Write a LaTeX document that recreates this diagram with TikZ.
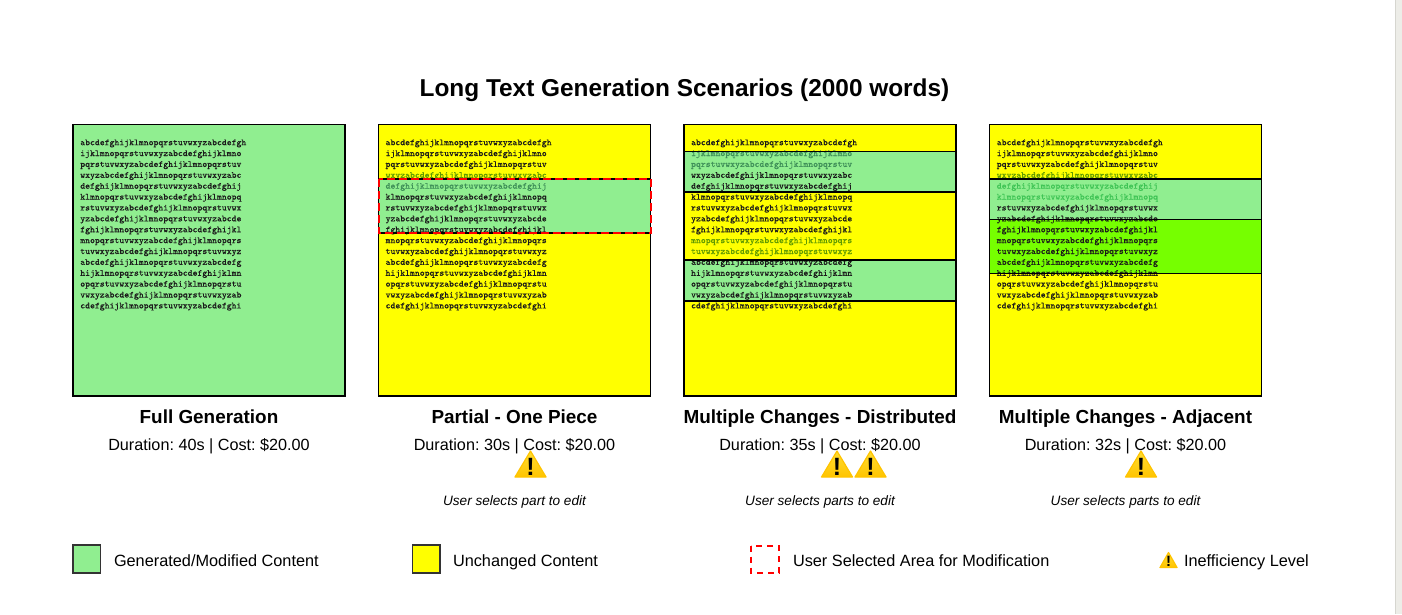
\documentclass[tikz,border=0pt]{standalone}
\usepackage{fontspec}
\setmainfont{Liberation Sans}
\newfontfamily\codefont[FakeBold=0.25]{Latin Modern Mono}
\frenchspacing
\definecolor{genc}{HTML}{90EE90}
\definecolor{adjc}{HTML}{76FF00}
\definecolor{unch}{HTML}{FFFF00}
\definecolor{tk}{HTML}{1A1A1A}
\definecolor{ty}{HTML}{5F9A00}
\definecolor{tf}{HTML}{3E8F58}
\definecolor{tl}{HTML}{3FC455}
\definecolor{warnt}{HTML}{FFDD33}
\definecolor{warnb}{HTML}{FFC400}
\definecolor{sbar}{HTML}{EDEDE8}
\definecolor{sbarl}{HTML}{D6D6D0}
\tikzset{
  x=1pt,y=-1pt,
  every node/.style={inner sep=0pt,outer sep=0pt},
  panelbox/.style={draw=black,line width=1.4pt,fill=#1},
  bandline/.style={draw=black,line width=1.4pt},
  selbox/.style={draw=red,line width=2pt,dash pattern=on 8pt off 4pt},
  legbox/.style={draw=black!80,line width=1.4pt,fill=#1},
  legsel/.style={draw=red,line width=2pt,dash pattern=on 6pt off 5pt},
  mono/.style={font=\fontsize{9.3pt}{9.3pt}\codefont,anchor=base west},
  titletext/.style={font=\fontsize{24.4pt}{24.4pt}\selectfont\bfseries,anchor=base},
  headtext/.style={font=\fontsize{18.9pt}{18.9pt}\selectfont\bfseries,anchor=base},
  durtext/.style={font=\fontsize{16.2pt}{16.2pt}\selectfont,anchor=base},
  hinttext/.style={font=\fontsize{13.6pt}{13.6pt}\selectfont\itshape,anchor=base},
  legtext/.style={font=\fontsize{16.3pt}{16.3pt}\selectfont,anchor=base west},
  warnmark/.style={font=\fontsize{#1}{#1}\selectfont\bfseries,anchor=base,text=black},
}
\newcommand{\tlset}[2]{\expandafter\def\csname tline#1\endcsname{#2}}
\tlset{1}{abcdefghijklmnopqrstuvwxyzabcdefgh}
\tlset{2}{ijklmnopqrstuvwxyzabcdefghijklmno}
\tlset{3}{pqrstuvwxyzabcdefghijklmnopqrstuv}
\tlset{4}{wxyzabcdefghijklmnopqrstuvwxyzabc}
\tlset{5}{defghijklmnopqrstuvwxyzabcdefghij}
\tlset{6}{klmnopqrstuvwxyzabcdefghijklmnopq}
\tlset{7}{rstuvwxyzabcdefghijklmnopqrstuvwx}
\tlset{8}{yzabcdefghijklmnopqrstuvwxyzabcde}
\tlset{9}{fghijklmnopqrstuvwxyzabcdefghijkl}
\tlset{10}{mnopqrstuvwxyzabcdefghijklmnopqrs}
\tlset{11}{tuvwxyzabcdefghijklmnopqrstuvwxyz}
\tlset{12}{abcdefghijklmnopqrstuvwxyzabcdefg}
\tlset{13}{hijklmnopqrstuvwxyzabcdefghijklmn}
\tlset{14}{opqrstuvwxyzabcdefghijklmnopqrstu}
\tlset{15}{vwxyzabcdefghijklmnopqrstuvwxyzab}
\tlset{16}{cdefghijklmnopqrstuvwxyzabcdefghi}
% panel id, left x of the text, colours of the 16 lines
\newcommand{\textblock}[3]{%
  \foreach \c [count=\i] in {#3}
    \node[mono,text=\c] (p#1l\i) at (#2,{145.2+(\i-1)*10.88}) {\csname tline\i\endcsname};
}
% name, apex x, apex y, half width, height, mark size, mark baseline
\newcommand{\warnsign}[7]{%
  \path[top color=warnt,bottom color=warnb,line join=round,draw=warnb,line width=1.2pt]
    (#2,#3+1) -- (#2+#4-1,#3+#5-1) -- (#2-#4+1,#3+#5-1) -- cycle;
  \node[warnmark=#6] (#1) at (#2,#7) {!};
}
\begin{document}
\begin{tikzpicture}
\useasboundingbox (0,0) rectangle (1402,614);
\fill[white] (0,0) rectangle (1402,614);
\fill[sbar] (1395,0) rectangle (1402,614);
\draw[sbarl,line width=1pt] (1395,0) -- (1395,614);

\node[titletext] (title) at (684.5,96.5) {Long Text Generation Scenarios (2000 words)};

% panel 1
\path[panelbox=genc] (73,124.5) rectangle (345,396);
\textblock{a}{80.3}{tk,tk,tk,tk,tk,tk,tk,tk,tk,tk,tk,tk,tk,tk,tk,tk}

% panel 2
\path[panelbox=unch] (378.5,124.5) rectangle (650.5,396);
\fill[genc] (378.5,178.8) rectangle (650.5,232.8);
\textblock{b}{385.6}{tk,tk,tk,ty,tf,tk,tk,tk,tk,tk,tk,tk,tk,tk,tk,tk}
\draw[bandline] (378.5,178.8) rectangle (650.5,232.8);
\draw[selbox] (378.5,178.8) rectangle (650.5,232.8);

% panel 3
\path[panelbox=unch] (684,124.5) rectangle (956,396);
\fill[genc] (684,151.5) rectangle (956,192);
\fill[genc] (684,260) rectangle (956,300.8);
\textblock{c}{691.1}{tk,tf,tf,tk,tk,tk,tk,tk,tk,ty,ty,tk,tk,tk,tk,tk}
\draw[bandline] (684,151.5) rectangle (956,192);
\draw[bandline] (684,260) rectangle (956,300.8);

% panel 4
\path[panelbox=unch] (989.5,124.5) rectangle (1261.5,396);
\fill[genc] (989.5,178.8) rectangle (1261.5,219.2);
\fill[adjc] (989.5,219.2) rectangle (1261.5,273.4);
\textblock{d}{996.8}{tk,tk,tk,ty,tl,tl,tk,tk,tk,tk,tk,tk,tk,tk,tk,tk}
\draw[bandline] (989.5,178.8) rectangle (1261.5,219.2);
\draw[bandline] (989.5,219.2) rectangle (1261.5,273.4);

% captions
\node[headtext] (h1) at (209,423.5) {Full Generation};
\node[headtext] (h2) at (514.5,423.5) {Partial - One Piece};
\node[headtext] (h3) at (820,423.5) {Multiple Changes - Distributed};
\node[headtext] (h4) at (1125.5,423.5) {Multiple Changes - Adjacent};
\node[durtext] (d1) at (209,450.5) {Duration: 40s | Cost: \$20.00};
\node[durtext] (d2) at (514.5,450.5) {Duration: 30s | Cost: \$20.00};
\node[durtext] (d3) at (820,450.5) {Duration: 35s | Cost: \$20.00};
\node[durtext] (d4) at (1125.5,450.5) {Duration: 32s | Cost: \$20.00};

\warnsign{w2}{530.5}{450}{16.5}{28}{25pt}{475}
\warnsign{w3a}{837}{450}{16.5}{28}{25pt}{475}
\warnsign{w3b}{870.5}{450}{16.5}{28}{25pt}{475}
\warnsign{w4}{1141}{450}{16.5}{28}{25pt}{475}

\node[hinttext] (u2) at (514.5,505) {User selects part to edit};
\node[hinttext] (u3) at (820,505) {User selects parts to edit};
\node[hinttext] (u4) at (1125.5,505) {User selects parts to edit};

% legend
\path[legbox=genc] (73,545) rectangle (100.5,573);
\node[legtext] (l1) at (114,566) {Generated/Modified Content};
\path[legbox=unch] (412.5,545) rectangle (440,573);
\node[legtext] (l2) at (453,566) {Unchanged Content};
\draw[legsel] (751,545.5) rectangle (779,572.5);
\node[legtext] (l3) at (793,566) {User Selected Area for Modification};
\warnsign{w5}{1168.5}{551.5}{9.5}{17}{15pt}{566.5}
\node[legtext] (l4) at (1184,566) {Inefficiency Level};
\end{tikzpicture}
\end{document}
